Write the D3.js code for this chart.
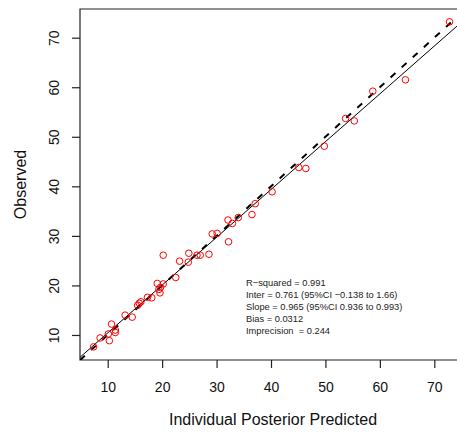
<!DOCTYPE html>
<html>
<head>
<meta charset="utf-8">
<script src="https://cdn.jsdelivr.net/npm/d3@7"></script>
<style>
  html, body { margin: 0; padding: 0; background: #fff; }
  svg { display: block; font-family: "Liberation Sans", Arial, Helvetica, sans-serif; }
</style>
</head>
<body>
<svg id="chart" width="457" height="432"></svg>
<script>
// Individual posterior predicted concentrations vs observed values
const predicted = [7.4, 8.6, 10.1, 10.3, 10.7, 11.4, 11.4, 13.2, 14.5, 15.5, 15.8, 16.1,
  17.3, 18.1, 19.1, 19.4, 19.7, 19.6, 20.2, 20.2, 22.5, 23.2, 24.8, 24.9, 26.4, 27.0,
  28.6, 29.2, 30.1, 32.1, 32.2, 32.9, 34.0, 36.5, 37.1, 40.2, 45.1, 46.4, 49.8, 53.7,
  55.3, 58.7, 64.7, 72.8];
const observed = [7.6, 9.4, 10.2, 8.85, 12.2, 11.0, 10.5, 14.0, 13.6, 16.0, 16.4, 16.7,
  17.6, 17.5, 20.4, 19.2, 19.6, 18.5, 20.3, 26.1, 21.6, 24.9, 24.7, 26.5, 26.1, 26.1,
  26.3, 30.4, 30.5, 33.2, 28.8, 32.5, 33.7, 34.3, 36.5, 38.9, 43.8, 43.6, 48.1, 53.7,
  53.2, 59.2, 61.5, 73.2];

const xTicks = [10, 20, 30, 40, 50, 60, 70];
const yTicks = [10, 20, 30, 40, 50, 60, 70];

// Linear regression of observed on predicted
const intercept = 0.761;
const slope = 0.965;

const statLines = [
  "R\u2212squared = 0.991",
  "Inter = 0.761 (95%CI \u22120.138 to 1.66)",
  "Slope = 0.965 (95%CI 0.936 to 0.993)",
  "Bias = 0.0312",
  "Imprecision  = 0.244"
];

const svg = d3.select("#chart");
const plotLeft = 80, plotTop = 9, plotBottom = 360, plotRight = 457;

const x = d3.scaleLinear().domain([4.91, 74.17]).range([plotLeft, plotRight]);
const y = d3.scaleLinear().domain([4.95, 75.79]).range([plotBottom, plotTop]);

svg.append("defs").append("clipPath").attr("id", "plotClip")
  .append("rect").attr("x", plotLeft).attr("y", plotTop)
  .attr("width", plotRight - plotLeft).attr("height", plotBottom - plotTop);

// Frame (top, left, bottom)
svg.append("path")
  .attr("d", `M${plotRight},${plotTop}H${plotLeft}V${plotBottom}H${plotRight}`)
  .attr("fill", "none").attr("stroke", "#222").attr("stroke-width", 1.2);

// X axis
const gx = svg.append("g").attr("transform", `translate(0,${plotBottom})`)
  .call(d3.axisBottom(x).tickValues(xTicks).tickSize(8).tickSizeOuter(0).tickPadding(6));
gx.select(".domain").remove();
gx.selectAll("line").attr("stroke", "#222").attr("stroke-width", 1.2);
gx.selectAll("text").attr("font-size", 14).attr("fill", "#111")
  .attr("y", 31.5).attr("dy", null);

// Y axis with rotated labels
const gy = svg.append("g").attr("transform", `translate(${plotLeft},0)`)
  .call(d3.axisLeft(y).tickValues(yTicks).tickSize(8).tickSizeOuter(0));
gy.select(".domain").remove();
gy.selectAll("line").attr("stroke", "#222").attr("stroke-width", 1.2);
gy.selectAll("text").attr("font-size", 14).attr("fill", "#111")
  .attr("transform", "rotate(-90)").attr("text-anchor", "middle")
  .attr("x", 0).attr("y", -21.5).attr("dy", null);

// Axis titles
svg.append("text").attr("x", 273).attr("y", 425).attr("text-anchor", "middle")
  .attr("font-size", 16).attr("fill", "#111").text("Individual Posterior Predicted");
svg.append("text").attr("transform", `translate(25.5,${(plotTop + plotBottom) / 2}) rotate(-90)`)
  .attr("text-anchor", "middle").attr("font-size", 16).attr("fill", "#111").text("Observed");

const plot = svg.append("g").attr("clip-path", "url(#plotClip)");
const [x0, x1] = x.domain();

// Line of identity
plot.append("line")
  .attr("x1", x(x0)).attr("y1", y(x0)).attr("x2", x(x1)).attr("y2", y(x1))
  .attr("stroke", "#000").attr("stroke-width", 2).attr("stroke-dasharray", "6.5,8.5");

// Regression line
plot.append("line")
  .attr("x1", x(x0)).attr("y1", y(intercept + slope * x0))
  .attr("x2", x(x1)).attr("y2", y(intercept + slope * x1))
  .attr("stroke", "#000").attr("stroke-width", 1);

// Observations
plot.selectAll("circle").data(predicted.map((p, i) => [p, observed[i]]))
  .join("circle")
  .attr("cx", d => x(d[0])).attr("cy", d => y(d[1])).attr("r", 3.3)
  .attr("fill", "none").attr("stroke", "#ff0000").attr("stroke-width", 1);

// Fit statistics
svg.append("g").selectAll("text").data(statLines).join("text")
  .attr("x", 246).attr("y", (d, i) => 286 + i * 11.9)
  .attr("font-size", 9.3).attr("fill", "#222")
  .style("white-space", "pre").text(d => d);
</script>
</body>
</html>
